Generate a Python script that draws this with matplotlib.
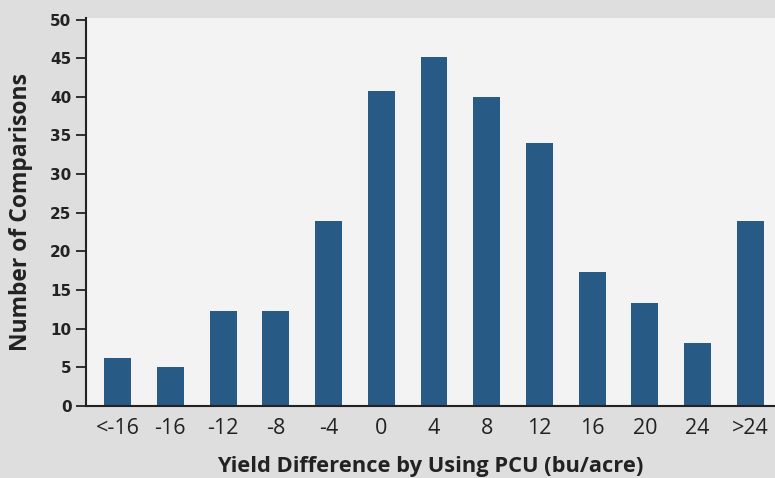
import matplotlib
matplotlib.use("Agg")
import matplotlib.pyplot as plt
import numpy as np

# data
categories = ["<-16", "-16", "-12", "-8", "-4", "0", "4", "8", "12", "16", "20", "24", ">24"]
counts = [6.2, 5.0, 12.3, 12.3, 24.0, 40.8, 45.2, 40.0, 34.0, 17.3, 13.3, 8.1, 24.0]
y_ticks = [0, 5, 10, 15, 20, 25, 30, 35, 40, 45, 50]

bar_color = "#285a86"
text_color = "#222222"

plt.rcParams["font.family"] = ["Open Sans", "DejaVu Sans"]

fig = plt.figure(figsize=(7.75, 4.78), dpi=100, facecolor="#dedede")
# axes run slightly past the right edge, like the cropped original
ax = fig.add_axes([86 / 775, 1 - 406 / 478, 696 / 775, 388 / 478])
ax.set_facecolor("#f3f3f3")

x = np.arange(len(categories))
ax.bar(x, counts, width=0.51, color=bar_color, zorder=2)

ax.set_xlim(-0.6, len(categories) - 0.4)
ax.set_ylim(0, 50.2)
ax.set_yticks(y_ticks)
ax.set_xticks(x)
ax.set_xticklabels(categories, fontsize=15.5, color=text_color)
ax.set_yticklabels([str(t) for t in y_ticks], fontsize=11, fontweight="bold",
                   color=text_color, family="DejaVu Sans")

ax.tick_params(axis="y", length=7.5, width=1.3, color=text_color, pad=3)
ax.tick_params(axis="x", length=0, pad=9)

for side in ["top", "right"]:
    ax.spines[side].set_visible(False)
for side in ["left", "bottom"]:
    ax.spines[side].set_color(text_color)
    ax.spines[side].set_linewidth(1.5)

ax.set_xlabel("Yield Difference by Using PCU (bu/acre)", fontsize=15.75,
              fontweight="bold", color=text_color)
ax.set_ylabel("Number of Comparisons", fontsize=16.5, fontweight="bold",
              color=text_color)
ax.xaxis.set_label_coords((430 - 86) / 696, -0.128)
ax.yaxis.set_label_coords((33 - 86) / 696, 0.5)

fig.savefig("out.png", dpi=100, facecolor=fig.get_facecolor())
